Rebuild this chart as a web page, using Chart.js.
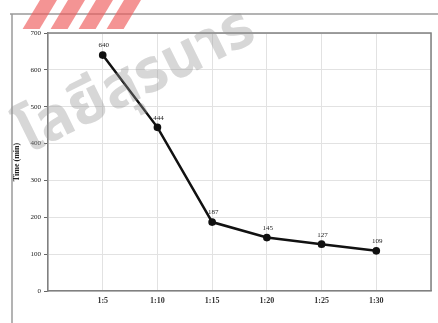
<!DOCTYPE html>
<html>
<head>
<meta charset="utf-8">
<script src="https://cdn.jsdelivr.net/npm/chart.js@4"></script>
<style>
  html, body { margin: 0; padding: 0; background: #fff; }
  #wrap { width: 438px; height: 323px; position: relative; }
</style>
</head>
<body>
<div id="wrap"><canvas id="timeChart"></canvas></div>
<script>
// dilution ratios and measured times
const ratios = ['1:5', '1:10', '1:15', '1:20', '1:25', '1:30'];
const times = [640, 444, 187, 145, 127, 109];
const yTicks = [0, 100, 200, 300, 400, 500, 600, 700];

const serif = '"Liberation Serif", "Times New Roman", serif';

// x position of each ratio = its denominator
const ratioX = ratios.map(r => Number(r.split(':')[1]));
const points = ratioX.map((x, i) => ({ x: x, y: times[i] }));

// frame around the figure and the top/right edges of the plot box
const framePlugin = {
    id: 'frame',
    beforeDraw(chart) {
        const ctx = chart.ctx;
        ctx.save();
        ctx.strokeStyle = '#9a9a9a';
        ctx.lineWidth = 1.5;
        ctx.beginPath();
        ctx.moveTo(10, 14);
        ctx.lineTo(chart.width, 14);
        ctx.moveTo(12, 14);
        ctx.lineTo(12, chart.height);
        ctx.stroke();
        ctx.restore();
    },
    afterDraw(chart) {
        const a = chart.chartArea;
        const ctx = chart.ctx;
        ctx.save();
        ctx.strokeStyle = '#808080';
        ctx.lineWidth = 1.5;
        ctx.beginPath();
        ctx.moveTo(a.left, a.top);
        ctx.lineTo(a.right, a.top);
        ctx.lineTo(a.right, a.bottom);
        ctx.stroke();
        ctx.restore();
    }
};

// value printed above each point
const valueLabels = {
    id: 'valueLabels',
    afterDatasetsDraw(chart) {
        const ctx = chart.ctx;
        const meta = chart.getDatasetMeta(0);
        ctx.save();
        ctx.font = '7px ' + serif;
        ctx.fillStyle = '#222';
        ctx.textAlign = 'center';
        ctx.textBaseline = 'bottom';
        meta.data.forEach((pt, i) => {
            ctx.fillText(String(times[i]), pt.x + 1, pt.y - 6);
        });
        ctx.restore();
    }
};

// faint university watermark across the upper left
const watermark = {
    id: 'watermark',
    afterDraw(chart) {
        const ctx = chart.ctx;
        ctx.save();
        ctx.fillStyle = 'rgba(238, 90, 90, 0.65)';
        ctx.translate(30, 0);
        ctx.transform(1, 0, -0.6, 1, 0, 0);
        [0, 28, 56, 84].forEach(dx => ctx.fillRect(dx + 10, 0, 17, 29));
        ctx.restore();

        ctx.save();
        ctx.translate(138, 86);
        ctx.rotate(-0.46);
        ctx.font = 'bold 60px "Noto Sans Thai", "Noto Sans", "DejaVu Sans", sans-serif';
        ctx.fillStyle = 'rgba(150, 150, 150, 0.38)';
        ctx.textAlign = 'center';
        ctx.textBaseline = 'middle';
        ctx.fillText('โลยีสุรนาร', 0, 0);
        ctx.restore();
    }
};

const ctx = document.getElementById('timeChart').getContext('2d');
new Chart(ctx, {
    type: 'scatter',
    data: {
        datasets: [{
            data: points,
            showLine: true,
            borderColor: '#111',
            backgroundColor: '#111',
            borderWidth: 2.5,
            pointRadius: 2.6,
            pointBackgroundColor: '#111',
            tension: 0
        }]
    },
    options: {
        responsive: true,
        maintainAspectRatio: false,
        animation: false,
        layout: { padding: { left: 12, top: 33, right: 7, bottom: 0 } },
        plugins: {
            legend: { display: false },
            tooltip: { enabled: false }
        },
        scales: {
            x: {
                type: 'linear',
                min: 0,
                max: 35,
                afterFit(scale) { scale.height = 32; },
                afterBuildTicks(scale) {
                    scale.ticks = [0, ...ratioX, 35].map(v => ({ value: v }));
                },
                grid: { color: '#e2e2e2', lineWidth: 1, drawTicks: false },
                border: { color: '#808080', width: 1.5 },
                ticks: {
                    padding: 5,
                    font: { family: serif, size: 8, weight: 'bold' },
                    color: '#333',
                    callback: v => {
                        const i = ratioX.indexOf(v);
                        return i >= 0 ? ratios[i] : '';
                    }
                }
            },
            y: {
                min: 0,
                max: 700,
                afterFit(scale) { scale.width = 36; },
                afterBuildTicks(scale) {
                    scale.ticks = yTicks.map(v => ({ value: v }));
                },
                grid: { color: '#e2e2e2', lineWidth: 1, tickColor: '#666', tickLength: 4 },
                border: { color: '#808080', width: 1.5 },
                ticks: {
                    padding: 3,
                    font: { family: serif, size: 7 },
                    color: '#222'
                },
                title: {
                    display: true,
                    text: 'Time (min)',
                    font: { family: serif, size: 8, weight: 'bold' },
                    color: '#222',
                    padding: { top: 0, bottom: 2 }
                }
            }
        }
    },
    plugins: [framePlugin, valueLabels, watermark]
});
</script>
</body>
</html>
